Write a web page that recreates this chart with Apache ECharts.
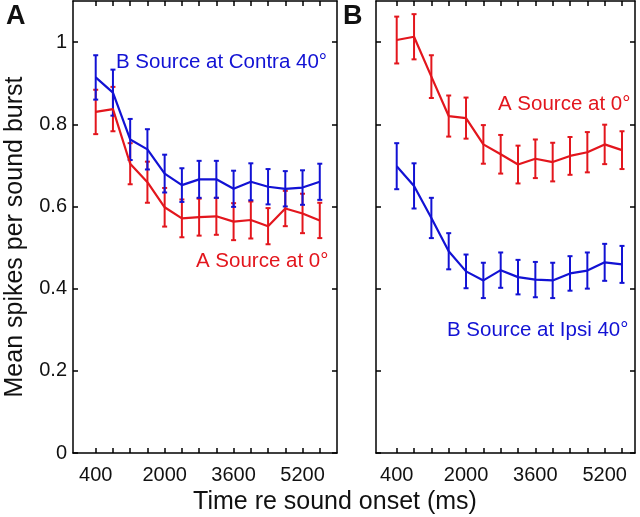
<!DOCTYPE html>
<html>
<head>
<meta charset="utf-8">
<script src="https://cdn.jsdelivr.net/npm/echarts@6/dist/echarts.min.js"></script>
<style>
html,body{margin:0;padding:0;background:#fff;}
#chart{width:640px;height:517px;}
</style>
</head>
<body>
<div id="chart"></div>
<script>
// ---- data ----
const timePoints = [400, 800, 1200, 1600, 2000, 2400, 2800, 3200, 3600, 4000, 4400, 4800, 5200, 5600];
const xTickLabels = [400, 2000, 3600, 5200];
const yTickValues = [0, 0.2, 0.4, 0.6, 0.8, 1];

// Panel A
const aBlueMean = [0.914, 0.877, 0.763, 0.739, 0.680, 0.652, 0.666, 0.666, 0.643, 0.660, 0.648, 0.643, 0.646, 0.660];
const aBlueErr  = [0.054, 0.056, 0.050, 0.049, 0.046, 0.041, 0.045, 0.045, 0.044, 0.045, 0.043, 0.043, 0.042, 0.044];
const aRedMean  = [0.830, 0.837, 0.704, 0.659, 0.598, 0.571, 0.574, 0.576, 0.563, 0.567, 0.552, 0.595, 0.583, 0.566];
const aRedErr   = [0.054, 0.054, 0.050, 0.050, 0.047, 0.046, 0.045, 0.045, 0.045, 0.045, 0.044, 0.043, 0.048, 0.043];
// Panel B
const bRedMean  = [1.005, 1.013, 0.916, 0.820, 0.815, 0.751, 0.727, 0.702, 0.716, 0.708, 0.723, 0.732, 0.751, 0.737];
const bRedErr   = [0.057, 0.055, 0.052, 0.050, 0.050, 0.047, 0.047, 0.046, 0.047, 0.047, 0.046, 0.049, 0.048, 0.046];
const bBlueMean = [0.698, 0.650, 0.572, 0.491, 0.442, 0.420, 0.445, 0.428, 0.422, 0.420, 0.437, 0.444, 0.464, 0.459];
const bBlueErr  = [0.056, 0.055, 0.049, 0.044, 0.041, 0.043, 0.043, 0.042, 0.043, 0.043, 0.042, 0.044, 0.045, 0.045];

const RED = '#e3161d';
const BLUE = '#1212d4';
const FONT = '"Liberation Sans", Arial, Helvetica, sans-serif';

const chart = echarts.init(document.getElementById('chart'), null, {renderer: 'canvas'});

function pts(mean) { return timePoints.map((t, i) => [t, mean[i]]); }
function errPts(mean, err) { return timePoints.map((t, i) => [t, mean[i], err[i]]); }

function errorSeries(mean, err, color, xi, yi) {
  return {
    type: 'custom',
    xAxisIndex: xi, yAxisIndex: yi,
    data: errPts(mean, err),
    silent: true,
    z: 3,
    renderItem: function (params, api) {
      const x = api.value(0), y = api.value(1), e = api.value(2);
      const lo = api.coord([x, y - e]);
      const hi = api.coord([x, y + e]);
      const hw = 2.5;
      const st = {stroke: color, lineWidth: 2};
      return {
        type: 'group',
        children: [
          {type: 'line', shape: {x1: lo[0], y1: lo[1], x2: hi[0], y2: hi[1]}, style: st},
          {type: 'line', shape: {x1: lo[0] - hw, y1: lo[1], x2: lo[0] + hw, y2: lo[1]}, style: st},
          {type: 'line', shape: {x1: hi[0] - hw, y1: hi[1], x2: hi[0] + hw, y2: hi[1]}, style: st}
        ]
      };
    }
  };
}

function lineSeries(mean, color, xi, yi) {
  return {
    type: 'line', xAxisIndex: xi, yAxisIndex: yi,
    data: pts(mean), symbol: 'none', silent: true, z: 4,
    lineStyle: {color: color, width: 2.2}
  };
}

const axisLineStyle = {show: true, onZero: false, lineStyle: {color: '#000', width: 1.5}};
function xAx(gi, pos, min, max, showLabels) {
  return {
    type: 'value', gridIndex: gi, position: pos, min: min, max: max,
    axisLine: axisLineStyle,
    splitLine: {show: false},
    axisTick: {show: true, inside: true, length: 5, lineStyle: {color: '#000', width: 1.5}, customValues: timePoints},
    axisLabel: {show: showLabels, customValues: xTickLabels, color: '#111', fontSize: 20, fontFamily: FONT, margin: 12,
      formatter: function (v) { return String(v); }}
  };
}
function yAx(gi, pos, showLabels) {
  return {
    type: 'value', gridIndex: gi, position: pos, min: 0, max: 1.1,
    axisLine: axisLineStyle,
    splitLine: {show: false},
    axisTick: {show: true, inside: true, length: 5, lineStyle: {color: '#000', width: 1.5}, customValues: yTickValues},
    axisLabel: {show: showLabels, customValues: yTickValues, color: '#111', fontSize: 20, fontFamily: FONT, margin: 6,
      formatter: function (v) { return String(Math.round(v * 10) / 10); }}
  };
}

const option = {
  backgroundColor: '#fff',
  animation: false,
  grid: [
    {left: 73, top: 1, width: 264, height: 452},
    {left: 376, top: 1, width: 259, height: 452}
  ],
  xAxis: [
    xAx(0, 'bottom', -127, 6000, true),
    xAx(0, 'top', -127, 6000, false),
    xAx(1, 'bottom', -78, 5900, true),
    xAx(1, 'top', -78, 5900, false)
  ],
  yAxis: [
    yAx(0, 'left', true),
    yAx(0, 'right', false),
    yAx(1, 'left', false),
    yAx(1, 'right', false)
  ],
  series: [
    errorSeries(aRedMean, aRedErr, RED, 0, 0),
    lineSeries(aRedMean, RED, 0, 0),
    errorSeries(aBlueMean, aBlueErr, BLUE, 0, 0),
    lineSeries(aBlueMean, BLUE, 0, 0),
    errorSeries(bRedMean, bRedErr, RED, 2, 2),
    lineSeries(bRedMean, RED, 2, 2),
    errorSeries(bBlueMean, bBlueErr, BLUE, 2, 2),
    lineSeries(bBlueMean, BLUE, 2, 2)
  ],
  graphic: [
    {type: 'text', left: 6, top: 3, style: {text: 'A', font: 'bold 27px ' + FONT, fill: '#111'}},
    {type: 'text', left: 343, top: 3, style: {text: 'B', font: 'bold 27px ' + FONT, fill: '#111'}},
    {type: 'text', x: 116, y: 62, style: {text: 'B Source at Contra 40°', font: '20.5px ' + FONT, fill: BLUE, verticalAlign: 'middle'}},
    {type: 'text', x: 196, y: 261, style: {text: 'A Source at 0°', font: '20.5px ' + FONT, fill: RED, verticalAlign: 'middle'}},
    {type: 'text', x: 498, y: 104, style: {text: 'A Source at 0°', font: '20.5px ' + FONT, fill: RED, verticalAlign: 'middle'}},
    {type: 'text', x: 447, y: 330, style: {text: 'B Source at Ipsi 40°', font: '20.5px ' + FONT, fill: BLUE, verticalAlign: 'middle'}},
    {type: 'text', x: 15, y: 237, rotation: Math.PI / 2,
      style: {text: 'Mean spikes per sound burst', font: '25px ' + FONT, fill: '#111', align: 'center', verticalAlign: 'middle'}},
    {type: 'text', x: 335, y: 502, style: {text: 'Time re sound onset (ms)', font: '25px ' + FONT, fill: '#111', align: 'center', verticalAlign: 'middle'}}
  ]
};
chart.setOption(option);
</script>
</body>
</html>
